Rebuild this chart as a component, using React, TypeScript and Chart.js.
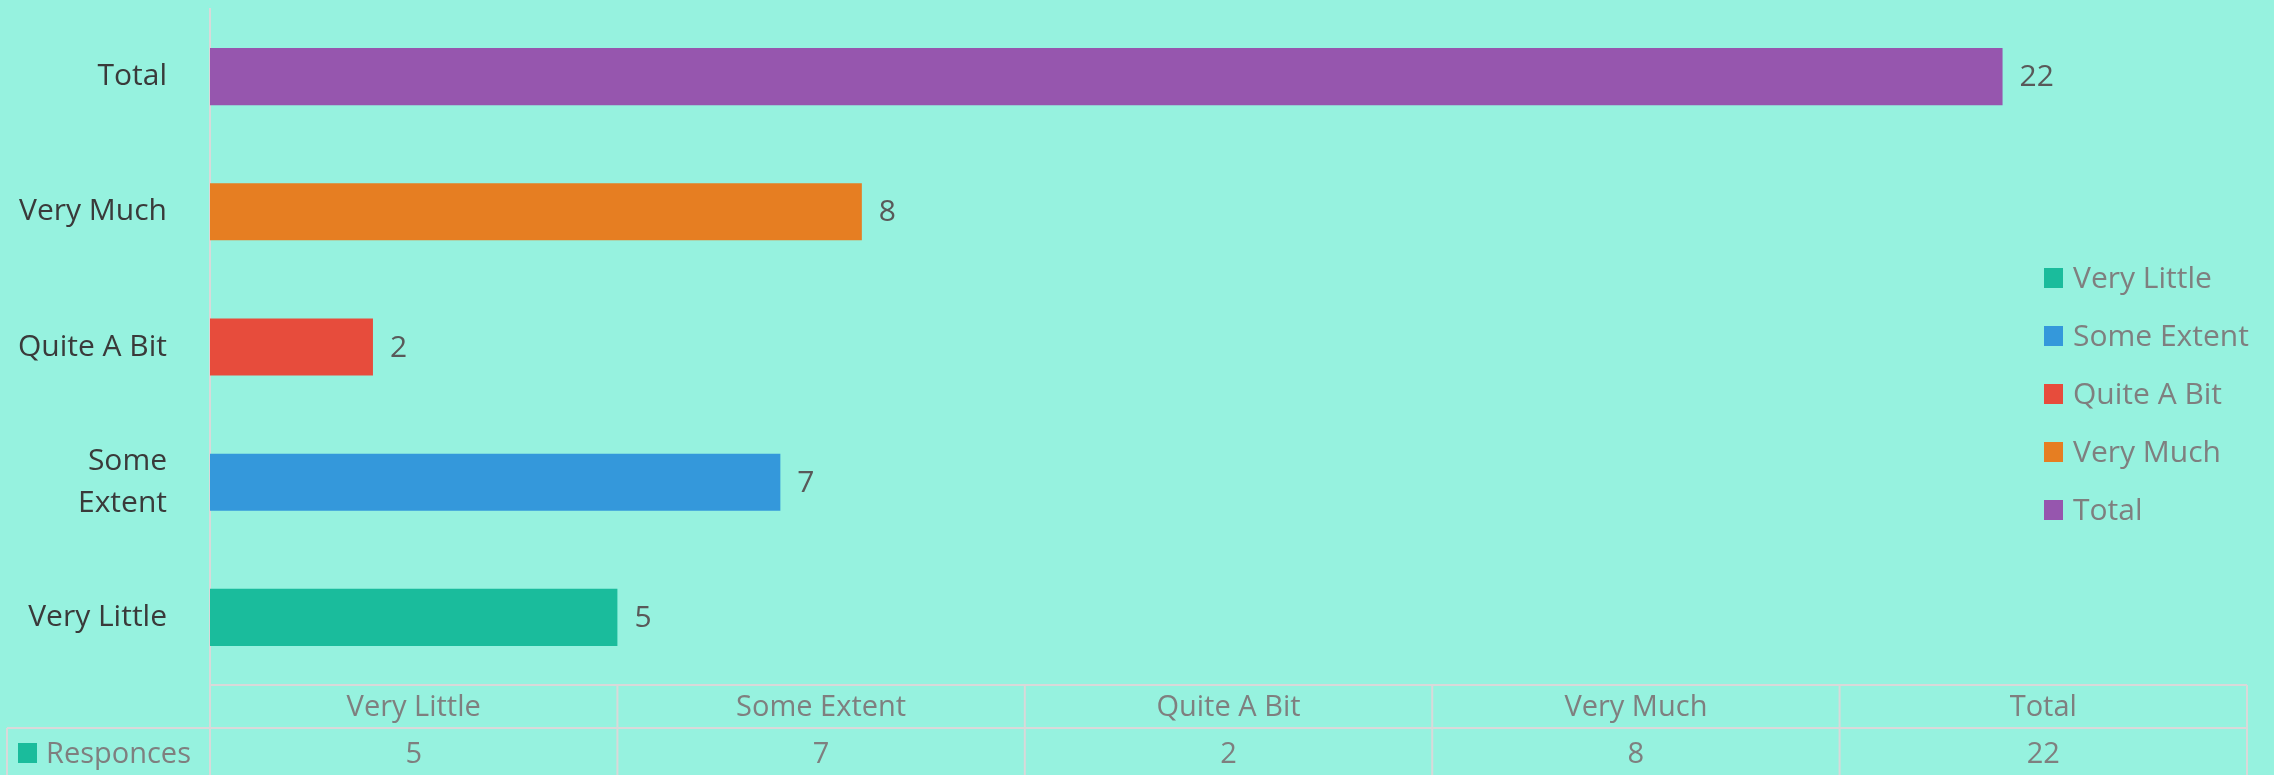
import React, { useEffect, useRef } from 'react';
import { Chart, registerables } from 'chart.js';

Chart.register(...registerables);

// ---- data ----
const categories: string[] = ['Very Little', 'Some Extent', 'Quite A Bit', 'Very Much', 'Total'];
const axisLabels: (string | string[])[] = ['Very Little', ['Some', 'Extent'], 'Quite A Bit', 'Very Much', 'Total'];
const responses: number[] = [5, 7, 2, 8, 22];
const barColors: string[] = ['#1ABC9C', '#3498DB', '#E74C3C', '#E67E22', '#9656AE'];
const seriesName = 'Responces';
const xMin = 0;
const xMax = 25;

// ---- styles ----
const BG = '#96F2DF';
const GRID = '#D9D9D9';
const FONT = '"Open Sans", "Noto Sans", sans-serif';
const AXIS_TEXT = '#3A3A3A';
const LABEL_TEXT = '#595959';
const SOFT_TEXT = '#7F7F7F';

const extrasPlugin = {
  id: 'extras',
  afterDatasetsDraw(chart: any) {
    const ctx = chart.ctx;
    const meta = chart.getDatasetMeta(0);
    ctx.save();
    ctx.font = `30px ${FONT}`;
    ctx.fillStyle = LABEL_TEXT;
    ctx.textAlign = 'left';
    ctx.textBaseline = 'middle';
    meta.data.forEach((bar: any, i: number) => {
      ctx.fillText(String(responses[i]), bar.x + 17, bar.y + 1);
    });
    ctx.restore();
  },
  afterDraw(chart: any) {
    const ctx = chart.ctx;
    const { left, right, bottom } = chart.chartArea;
    const H = chart.height;
    const n = categories.length;
    const colW = (right - left) / n;
    const headerTop = bottom;
    const valueTop = bottom + 43;

    ctx.save();
    // table lines
    ctx.strokeStyle = GRID;
    ctx.lineWidth = 2;
    ctx.beginPath();
    ctx.moveTo(left, headerTop);
    ctx.lineTo(right, headerTop);
    ctx.moveTo(7, valueTop);
    ctx.lineTo(right, valueTop);
    ctx.moveTo(7, valueTop);
    ctx.lineTo(7, H);
    ctx.moveTo(left, headerTop);
    ctx.lineTo(left, H);
    for (let i = 1; i <= n; i++) {
      const x = left + colW * i;
      ctx.moveTo(x, headerTop);
      ctx.lineTo(x, H);
    }
    ctx.stroke();

    // table text
    ctx.font = `29px ${FONT}`;
    ctx.fillStyle = SOFT_TEXT;
    ctx.textAlign = 'center';
    ctx.textBaseline = 'middle';
    for (let i = 0; i < n; i++) {
      const cx = left + colW * (i + 0.5);
      ctx.fillText(categories[i], cx, headerTop + 23);
      ctx.fillText(String(responses[i]), cx, valueTop + 27);
    }
    // series key
    ctx.fillStyle = barColors[0];
    ctx.fillRect(18, valueTop + 15, 19, 20);
    ctx.fillStyle = SOFT_TEXT;
    ctx.textAlign = 'left';
    ctx.fillText(seriesName, 46, valueTop + 27);

    // legend
    const lx = chart.width - 230;
    const ly = 278;
    const step = 58;
    ctx.font = `30px ${FONT}`;
    categories.forEach((c, i) => {
      const cy = ly + step * i;
      ctx.fillStyle = barColors[i];
      ctx.fillRect(lx, cy - 10, 19, 20);
      ctx.fillStyle = SOFT_TEXT;
      ctx.fillText(c, lx + 29, cy + 1);
    });
    ctx.restore();
  },
};

function BarChart() {
  const ref = useRef<HTMLCanvasElement | null>(null);
  useEffect(() => {
    if (!ref.current) return;
    const chart = new Chart(ref.current, {
      type: 'bar',
      data: {
        labels: axisLabels as any,
        datasets: [
          {
            label: seriesName,
            data: responses,
            backgroundColor: barColors,
            borderWidth: 0,
            barPercentage: 0.422,
            categoryPercentage: 1,
          },
        ],
      },
      options: {
        responsive: false,
        animation: false,
        devicePixelRatio: 1,
        indexAxis: 'y',
        layout: { padding: { top: 9, right: 27, bottom: 90, left: 0 } },
        plugins: {
          legend: { display: false },
          tooltip: { enabled: false },
        },
        scales: {
          x: { display: false, min: xMin, max: xMax },
          y: {
            reverse: true,
            grid: { display: false, drawTicks: false, tickLength: 0 },
            border: { display: true, color: GRID, width: 2 },
            ticks: {
              color: AXIS_TEXT,
              font: { family: FONT, size: 30, lineHeight: 1.4 },
              padding: 43,
            },
            afterFit: (scale: any) => {
              scale.width = 210;
              scale.paddingTop = 0;
              scale.paddingBottom = 0;
            },
          },
        },
      },
      plugins: [extrasPlugin],
    });
    return () => chart.destroy();
  }, []);
  return <canvas ref={ref} width={2274} height={775} style={{ display: 'block', width: 2274, height: 775 }} />;
}

export default function App() {
  return (
    <div style={{ position: 'fixed', left: 0, top: 0, width: 2274, height: 775, background: BG, overflow: 'hidden' }}>
      <BarChart />
    </div>
  );
}
